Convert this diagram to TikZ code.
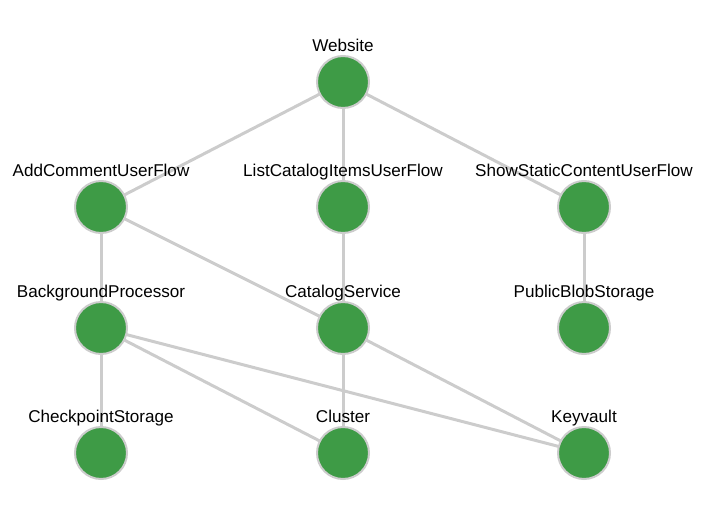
\documentclass[tikz,border=0pt]{standalone}
\usepackage{fontspec}
\setmainfont{Liberation Sans}
\usetikzlibrary{backgrounds}
\definecolor{svcgreen}{RGB}{62,155,70}
\definecolor{edgegray}{RGB}{204,204,204}
\tikzset{
	svc/.style={circle, minimum size=52pt, inner sep=0pt, fill=svcgreen, draw=edgegray, line width=2pt},
	lbl/.style={anchor=base, inner sep=0pt, font=\fontsize{17.1}{20}\selectfont},
	dep/.style={draw=edgegray, line width=3pt}
}
\begin{document}
\begin{tikzpicture}[x=1pt, y=-1pt, label distance=4pt]
		\useasboundingbox (0,0) rectangle (723,506);
		% top level
		\node[svc, label={[lbl]90:Website}] (web) at (343,82) {};
		% user flows
		\node[svc, label={[lbl]90:AddCommentUserFlow}] (addc) at (101,207) {};
		\node[svc, label={[lbl]90:ListCatalogItemsUserFlow}] (list) at (343,207) {};
		\node[svc, label={[lbl]90:ShowStaticContentUserFlow}] (show) at (584,207) {};
		% services
		\node[svc, label={[lbl]90:BackgroundProcessor}] (bgp) at (101,328) {};
		\node[svc, label={[lbl]90:CatalogService}] (cat) at (343,328) {};
		\node[svc, label={[lbl]90:PublicBlobStorage}] (blob) at (584,328) {};
		% resources
		\node[svc, label={[lbl]90:CheckpointStorage}] (ckpt) at (101,453) {};
		\node[svc, label={[lbl]90:Cluster}] (clu) at (343,453) {};
		\node[svc, label={[lbl]90:Keyvault}] (kv) at (584,453) {};
		
		\begin{scope}[on background layer]
			\foreach \a/\b in {web/addc, web/list, web/show, addc/bgp, addc/cat, list/cat, show/blob, bgp/ckpt, bgp/clu, bgp/kv, cat/clu, cat/kv}{
				\draw[dep] (\a.center) -- (\b.center);
			}
		\end{scope}
\end{tikzpicture}
\end{document}
